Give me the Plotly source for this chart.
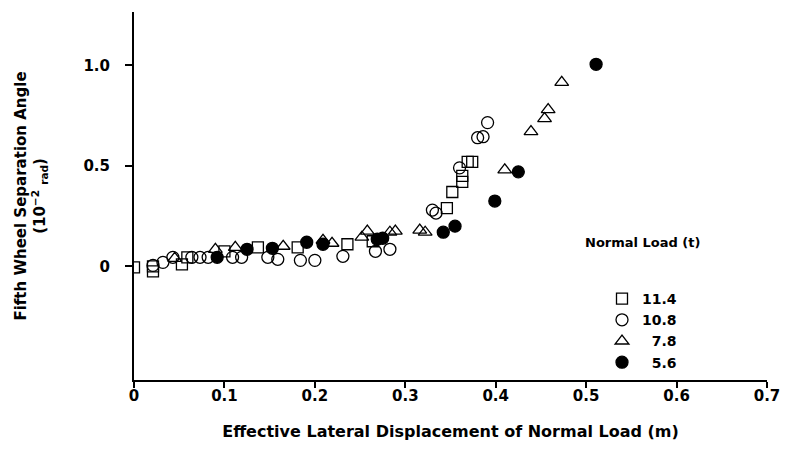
import plotly.graph_objects as go

# ---- data ----
sq_x = [0.0, 0.021, 0.021, 0.053, 0.059, 0.100, 0.137, 0.181, 0.236, 0.264,
        0.346, 0.352, 0.363, 0.363, 0.369, 0.374]
sq_y = [-0.005, 0.0, -0.025, 0.01, 0.045, 0.075, 0.095, 0.095, 0.11, 0.125,
        0.29, 0.37, 0.42, 0.45, 0.52, 0.52]

ci_x = [0.021, 0.032, 0.043, 0.064, 0.073, 0.082, 0.109, 0.119, 0.148, 0.159,
        0.184, 0.200, 0.231, 0.267, 0.283, 0.330, 0.334, 0.360, 0.380, 0.386, 0.391]
ci_y = [0.005, 0.02, 0.045, 0.045, 0.045, 0.045, 0.045, 0.045, 0.045, 0.035,
        0.03, 0.03, 0.05, 0.075, 0.085, 0.28, 0.265, 0.49, 0.64, 0.645, 0.715]

tr_x = [0.045, 0.090, 0.112, 0.165, 0.209, 0.219, 0.252, 0.258, 0.283, 0.289,
        0.316, 0.322, 0.410, 0.439, 0.454, 0.458, 0.473]
tr_y = [0.04, 0.085, 0.095, 0.10, 0.13, 0.115, 0.145, 0.175, 0.17, 0.175,
        0.18, 0.17, 0.48, 0.67, 0.735, 0.78, 0.915]

fc_x = [0.092, 0.125, 0.153, 0.191, 0.209, 0.269, 0.275, 0.342, 0.355, 0.399, 0.425, 0.511]
fc_y = [0.045, 0.085, 0.09, 0.12, 0.11, 0.135, 0.14, 0.17, 0.20, 0.325, 0.47, 1.005]

series_names = ["11.4", "10.8", "\u20077.8", "\u20075.6"]
legend_title = "Normal Load (t)"
x_ticks = [0, 0.1, 0.2, 0.3, 0.4, 0.5, 0.6, 0.7]
x_tick_text = ["0", "0.1", "0.2", "0.3", "0.4", "0.5", "0.6", "0.7"]
y_ticks = [0, 0.5, 1.0]
y_tick_text = ["0", "0.5", "1.0"]

FONT = "DejaVu Sans"

fig = go.Figure()
specs = [
    (sq_x, sq_y, "square-open", 11),
    (ci_x, ci_y, "circle-open", 12),
    (tr_x, tr_y, "triangle-up-open", 12),
    (fc_x, fc_y, "circle", 12),
]
for (xs, ys, sym, sz), nm in zip(specs, series_names):
    fig.add_trace(go.Scatter(
        x=xs, y=ys, mode="markers", name="<b>%s</b>" % nm,
        marker=dict(symbol=sym, size=sz, color="black",
                    line=dict(color="black", width=1.3)),
    ))

# plot area: x 134..767 px, y 12..380 px
fig.update_layout(
    width=792, height=452,
    margin=dict(l=134, r=25, t=12, b=72),
    paper_bgcolor="white", plot_bgcolor="white",
    font=dict(family=FONT, color="black"),
    showlegend=True,
    legend=dict(
        x=(602 - 134) / 633, y=(380 - 283) / 368, xanchor="left", yanchor="top",
        font=dict(size=14, family=FONT),
        bgcolor="rgba(0,0,0,0)",
        tracegroupgap=0, itemwidth=30,
    ),
    annotations=[dict(
        text="<b>%s</b>" % legend_title, xref="paper", yref="paper",
        x=(583 - 134) / 633, y=(380 - 242) / 368, xanchor="left", yanchor="middle",
        showarrow=False, font=dict(size=13, family=FONT),
    )],
)
fig.update_xaxes(
    range=[0, 0.7], tickvals=x_ticks, ticktext=["<b>%s</b>" % t for t in x_tick_text],
    showgrid=False, zeroline=False, showline=True, linecolor="black", linewidth=2,
    ticks="outside", ticklen=6, tickwidth=2, tickcolor="black",
    ticklabelstandoff=-5,
    tickfont=dict(size=15, family=FONT),
    title=dict(text="<b>Effective Lateral Displacement of Normal Load (m)</b>",
               font=dict(size=16, family=FONT), standoff=22),
)
fig.update_yaxes(
    range=[-0.565, 1.265], tickvals=y_ticks, ticktext=["<b>%s</b>" % t for t in y_tick_text],
    showgrid=False, zeroline=False, showline=True, linecolor="black", linewidth=2,
    ticks="outside", ticklen=7, tickwidth=2, tickcolor="black",
    ticklabelstandoff=12,
    tickfont=dict(size=15, family=FONT),
    title=dict(text="<b>Fifth Wheel Separation Angle<br>(10<sup>\u22122</sup> <sub>rad</sub>)</b>",
               font=dict(size=15, family=FONT), standoff=34),
)

fig.write_html("out.html")
